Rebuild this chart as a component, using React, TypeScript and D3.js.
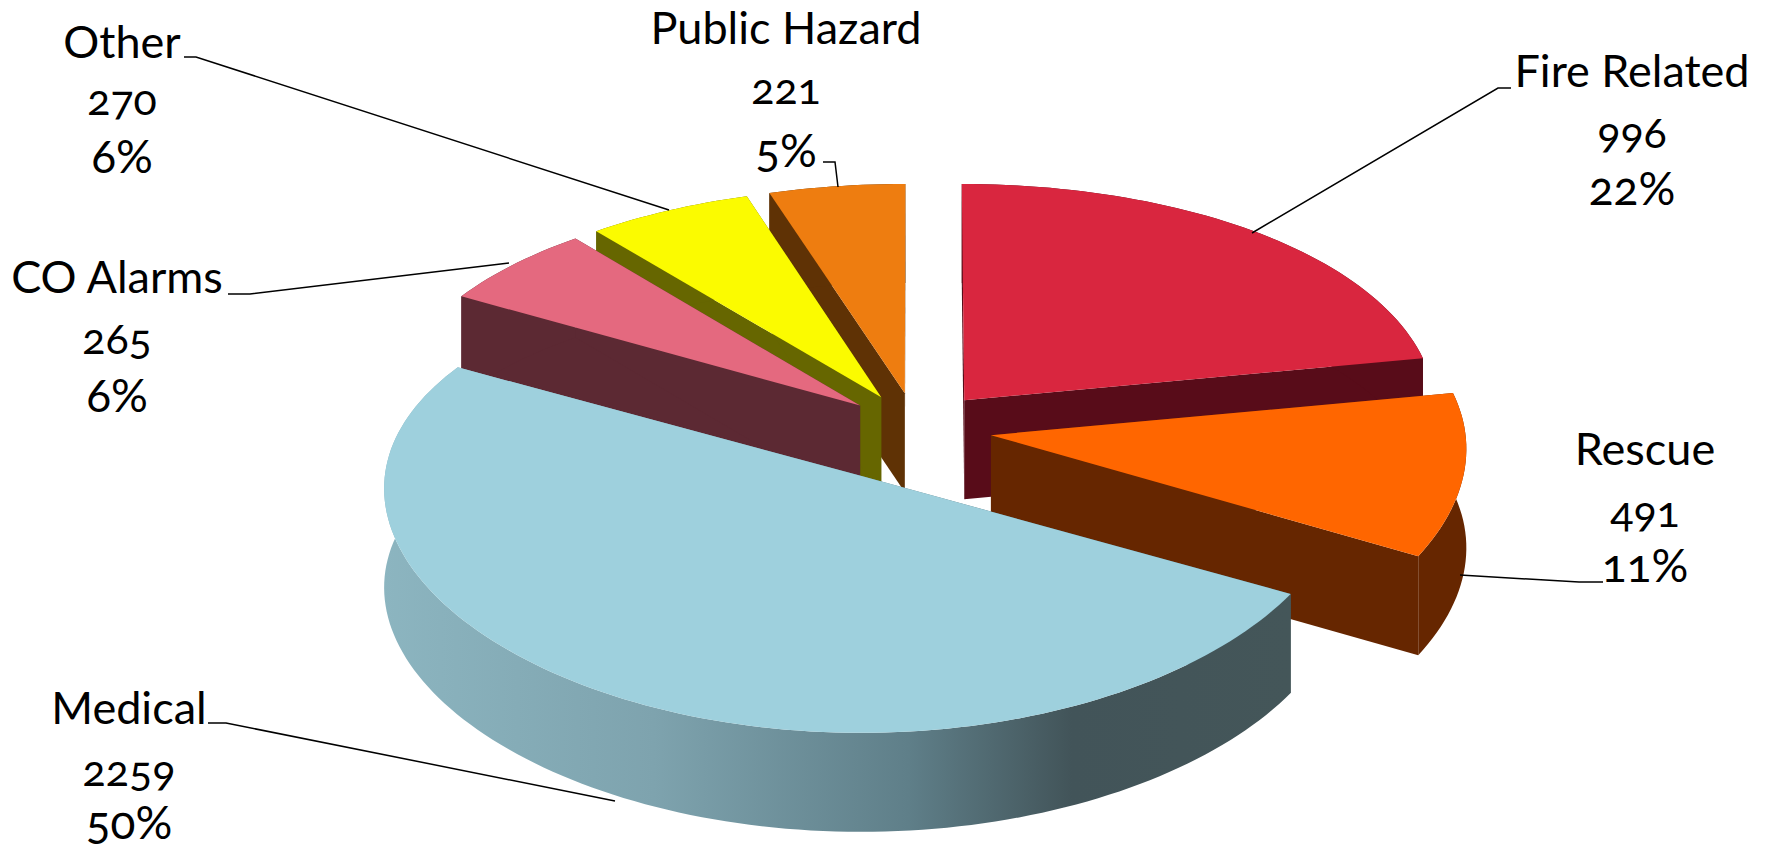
import * as d3 from "d3";
import { useEffect, useRef } from "react";

const categories = ["Fire Related", "Rescue", "Medical", "CO Alarms", "Other", "Public Hazard"];
const values = [996, 491, 2259, 265, 270, 221];
const percents = ["22%", "11%", "50%", "6%", "6%", "5%"];

const topColors = ["#d9263f", "#ff6600", "#9ed0dd", "#e4697f", "#fbfb00", "#ee7d10"];
const sideColors = ["#580c19", "#662600", "url(#medicalSide)", "#5c2933", "#666600", "#5f3205"];

// how far each slice is pulled out, and how much its depth radius differs
const explosion = [0.16, 0.16, 0.225, 0.155, 0.155, 0.155];
const squash = [1.03, 1, 0.94, 1, 1, 1];

// back to front, the slices overlap each other
const drawOrder = [5, 4, 3, 0, 1, 2];

// label centre x and the three baselines
const labelX = [1632, 1645, 129, 117, 122, 786];
const labelY = [
  [87, 148, 205],
  [465, 527, 582],
  [724, 786, 839],
  [293, 354, 412],
  [58, 115, 173],
  [44, 104, 167],
];
const rowSize = [45, 43, 46];
const leaders = [
  [[1252, 233], [1498, 88], [1511, 88]],
  [[1460, 575], [1579, 582], [1603, 582]],
  [[208, 723], [226, 723], [615, 801]],
  [[228, 294], [250, 294], [509, 263]],
  [[184, 57], [196, 57], [669, 210]],
  [[823, 162], [835, 162], [838, 187]],
];

export default function App() {
  const ref = useRef<SVGSVGElement>(null);

  useEffect(() => {
    if (!ref.current) return;
    const width = 1769;
    const height = 852;
    const cx = 916;
    const cy = 429;
    const radiusX = 474;
    const radiusY = 237;
    const perspectiveX = 0.05;
    const perspectiveY = 0.1;
    const depth = 99;

    const svg = d3.select(ref.current);
    svg.selectAll("*").remove();
    svg
      .attr("width", width)
      .attr("height", height)
      .attr("viewBox", [0, 0, width, height])
      .style("position", "absolute")
      .style("left", 0)
      .style("top", 0)
      .style("background", "#fff");

    const grad = svg
      .append("defs")
      .append("linearGradient")
      .attr("id", "medicalSide")
      .attr("gradientUnits", "userSpaceOnUse")
      .attr("x1", 381)
      .attr("x2", 1290)
      .attr("y1", 0)
      .attr("y2", 0);
    [
      [0, "#8cb5c0"],
      [0.3, "#7ea3ae"],
      [0.58, "#5f7f89"],
      [0.76, "#425459"],
      [1, "#445659"],
    ].forEach(([o, c]) => grad.append("stop").attr("offset", o).attr("stop-color", c));

    const pie = d3
      .pie<number>()
      .sort(null)
      .value((d) => d);
    const arcs = pie(values);

    // world coordinates on the pie plane: unit radius, y pointing to the viewer
    const project = (x: number, y: number, drop = 0): [number, number] => [
      cx + radiusX * x * (1 + perspectiveX * y),
      cy + (radiusY * y) / (1 - perspectiveY * y) + drop,
    ];
    const line = d3.line();

    const plot = svg.append("g");
    drawOrder.forEach((i) => {
      const a = arcs[i];
      const mid = (a.startAngle + a.endAngle) / 2;
      const ox = explosion[i] * Math.sin(mid);
      const oy = -explosion[i] * Math.cos(mid);
      const steps = Math.ceil((a.endAngle - a.startAngle) * 40);
      const angles = d3.range(steps + 1).map((k) => a.startAngle + ((a.endAngle - a.startAngle) * k) / steps);
      const rim = (drop: number) =>
        angles.map((t) => project(ox + Math.sin(t), oy - squash[i] * Math.cos(t), drop));
      const apex = project(ox, oy);
      const apexLow = project(ox, oy, depth);
      const top = rim(0);
      const low = rim(depth);

      const g = plot.append("g").attr("class", "slice");
      // side walls first, the top face goes over them
      g.append("path")
        .attr("d", line([apex, top[0], low[0], apexLow]))
        .attr("fill", sideColors[i]);
      g.append("path")
        .attr("d", line([apex, top[top.length - 1], low[low.length - 1], apexLow]))
        .attr("fill", sideColors[i]);
      g.append("path")
        .attr("d", line([...top, ...low.slice().reverse()]))
        .attr("fill", sideColors[i]);
      g.append("path")
        .attr("d", line([apex, ...top]) + "Z")
        .attr("fill", topColors[i]);
    });

    svg
      .append("g")
      .selectAll("path")
      .data(leaders)
      .enter()
      .append("path")
      .attr("d", (d) => line(d as [number, number][]))
      .attr("fill", "none")
      .attr("stroke", "#000")
      .attr("stroke-width", 1.5);

    const labels = svg
      .append("g")
      .attr("font-family", "Lato, 'Open Sans', sans-serif")
      .attr("text-anchor", "middle")
      .style("font-variant-numeric", "oldstyle-nums")
      .selectAll("g")
      .data(categories)
      .enter()
      .append("g");
    labels.each(function (name, i) {
      const rows = [name, String(values[i]), percents[i]];
      d3.select(this)
        .selectAll("text")
        .data(rows)
        .enter()
        .append("text")
        .attr("x", labelX[i])
        .attr("y", (_, r) => labelY[i][r])
        .attr("font-size", (_, r) => rowSize[r])
        .text((d) => d);
    });
  }, []);

  return <svg ref={ref} />;
}
